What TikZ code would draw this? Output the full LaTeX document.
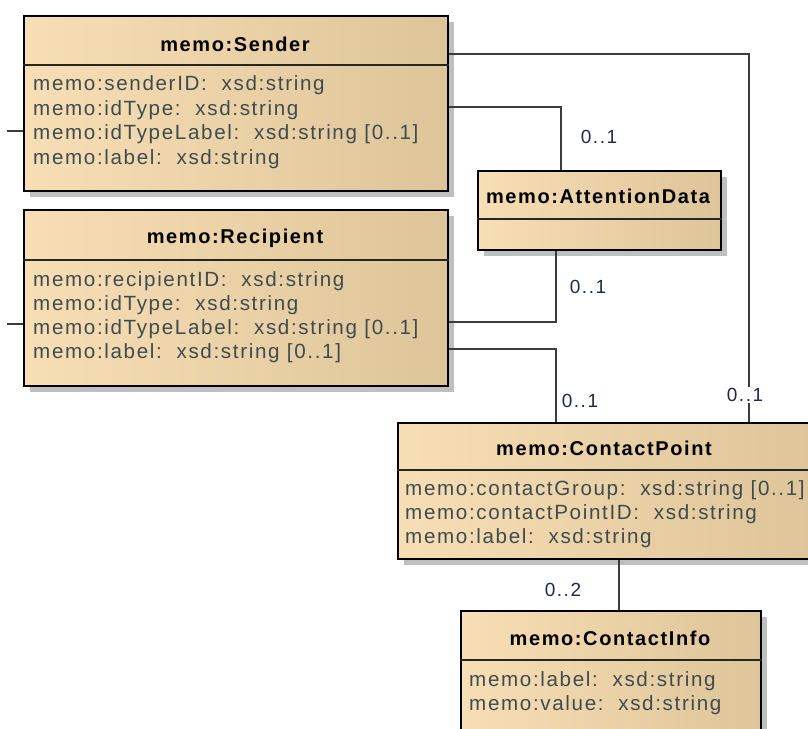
\documentclass[tikz,border=0pt]{standalone}
\usepackage{fontspec}
\setmainfont{Liberation Sans}[LetterSpace=8]
\usetikzlibrary{shadows}
\definecolor{clsL}{RGB}{247,222,180}
\definecolor{clsR}{RGB}{221,196,153}
\definecolor{attrc}{RGB}{62,76,80}
\definecolor{multc}{RGB}{30,40,80}
\definecolor{edgec}{RGB}{60,60,60}
\tikzset{
  cls/.style={draw=black, line width=2pt, left color=clsL, right color=clsR, inner sep=0pt, anchor=north west,
    general shadow={fill=black!25, shadow xshift=6pt, shadow yshift=-6pt}},
  sepline/.style={draw=black!85, line width=1.4pt},
  ttl/.style={anchor=base, inner sep=0pt, font=\fontsize{20}{24}\selectfont\bfseries, text=black},
  attr/.style={anchor=base west, inner sep=0pt, font=\fontsize{20.6}{24}\selectfont, text=attrc},
  conn/.style={draw=edgec, line width=1.5pt},
  mult/.style={inner sep=1.5pt, fill=white, font=\fontsize{19}{20}\selectfont, text=multc},
}
\begin{document}
\begin{tikzpicture}[x=1pt,y=-1pt]
\useasboundingbox (0,0) rectangle (808,728);
\clip (0,0) rectangle (808,728);
\fill[white] (0,0) rectangle (808,728);

% Sender
\node[cls, minimum width=424pt, minimum height=175pt] (sender) at (23,15) {};
\draw[sepline] (sender.west |- 0,65) -- (sender.east |- 0,65);
\node[ttl] (senderT) at (235,51) {memo:Sender};
\node[attr] (sa1) at (33,90.5) {memo:senderID:\ \ xsd:string};
\node[attr] (sa2) at (33,115) {memo:idType:\ \ xsd:string};
\node[attr] (sa3) at (33,139.5) {memo:idTypeLabel:\ \ xsd:string [0..1]};
\node[attr] (sa4) at (33,164) {memo:label:\ \ xsd:string};

% Recipient
\node[cls, minimum width=424pt, minimum height=176pt] (recip) at (23,209) {};
\draw[sepline] (recip.west |- 0,260) -- (recip.east |- 0,260);
\node[ttl] (recipT) at (235,243) {memo:Recipient};
\node[attr] (ra1) at (33,286) {memo:recipientID:\ \ xsd:string};
\node[attr] (ra2) at (33,310) {memo:idType:\ \ xsd:string};
\node[attr] (ra3) at (33,334.5) {memo:idTypeLabel:\ \ xsd:string [0..1]};
\node[attr] (ra4) at (33,358) {memo:label:\ \ xsd:string [0..1]};

% AttentionData
\node[cls, minimum width=243pt, minimum height=79pt] (attn) at (477,170) {};
\draw[sepline] (attn.west |- 0,219) -- (attn.east |- 0,219);
\node[ttl] (attnT) at (598,203.5) {memo:AttentionData};

% ContactPoint
\node[cls, minimum width=415pt, minimum height=136pt] (cp) at (397,422) {};
\draw[sepline] (cp.west |- 0,470) -- (cp.east |- 0,470);
\node[ttl] (cpT) at (604,455.5) {memo:ContactPoint};
\node[attr] (ca1) at (405,495) {memo:contactGroup:\ \ xsd:string [0..1]};
\node[attr] (ca2) at (405,519.5) {memo:contactPointID:\ \ xsd:string};
\node[attr] (ca3) at (405,543.5) {memo:label:\ \ xsd:string};

% ContactInfo
\node[cls, minimum width=300pt, minimum height=140pt] (ci) at (460,610) {};
\draw[sepline] (ci.west |- 0,660) -- (ci.east |- 0,660);
\node[ttl] (ciT) at (610,645.5) {memo:ContactInfo};
\node[attr] (ia1) at (469,686) {memo:label:\ \ xsd:string};
\node[attr] (ia2) at (469,710) {memo:value:\ \ xsd:string};

% connectors
\coordinate (stubS) at (7,131);
\coordinate (stubR) at (7,324);
\draw[conn] (sender.west |- stubS) -- (stubS);
\draw[conn] (recip.west |- stubR) -- (stubR);

\draw[conn] (sender.east |- 0,54) -| (cp.north -| 749,0);
\draw[conn] (sender.east |- 0,107) -| (attn.north -| 561,0);
\draw[conn] (attn.south -| 556,0) |- (recip.east |- 0,322);
\draw[conn] (recip.east |- 0,349) -| (cp.north -| 556,0);
\draw[conn] (cp.south -| 619,0) -- (ci.north -| 619,0);

\node[mult] (m1) at (745,395) {0..1};
\node[mult] (m2) at (599,137) {0..1};
\node[mult] (m3) at (588,287) {0..1};
\node[mult] (m4) at (580,401) {0..1};
\node[mult] (m5) at (563,590) {0..2};
\end{tikzpicture}
\end{document}
